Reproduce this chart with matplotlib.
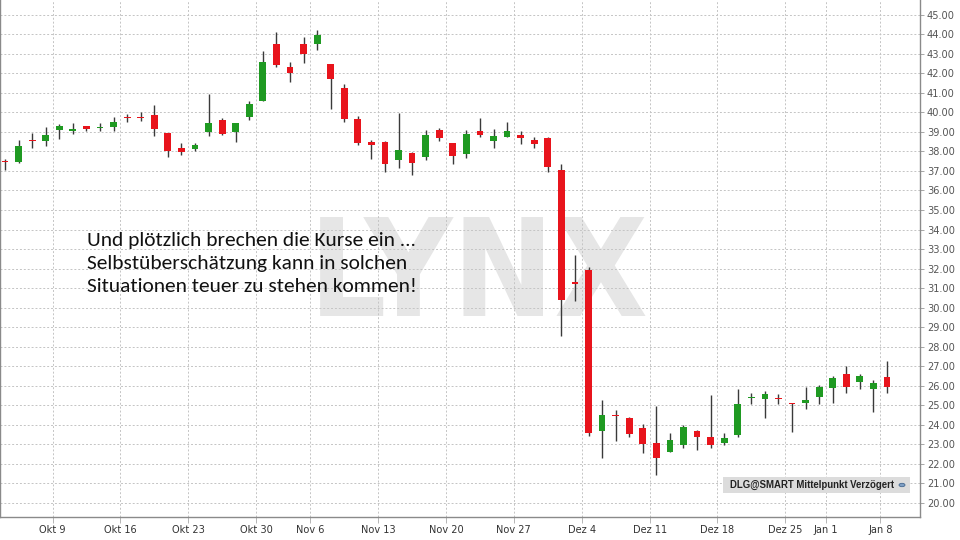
import matplotlib
matplotlib.use("Agg")
import matplotlib.pyplot as plt
from matplotlib.patches import Rectangle, Circle
from matplotlib.ticker import FixedLocator, FuncFormatter, MultipleLocator
from matplotlib import font_manager as fm
from matplotlib.textpath import TextPath
import numpy as np

# ---------------- data ----------------
opens = [37.50, 37.47, 38.58, 38.55, 39.10, 39.06, 39.30, 39.20, 39.25, 39.77,
         39.78, 39.85, 38.93, 38.16, 38.10, 39.00, 39.60, 39.00, 39.76, 40.60,
         43.50, 42.34, 43.49, 43.49, 42.48, 41.23, 39.65, 38.48, 38.48, 37.55,
         37.90, 37.71, 39.11, 38.43, 37.85, 39.05, 38.55, 38.76, 38.86, 38.60,
         38.69, 37.07, 31.30, 31.93, 23.70, 24.52, 24.36, 23.83, 23.08, 22.62,
         22.98, 23.66, 23.37, 23.05, 23.47, 25.37, 25.30, 25.36, 25.08, 25.10,
         25.44, 25.90, 26.58, 26.19, 25.85, 26.44]
highs = [37.60, 38.60, 38.96, 39.25, 39.40, 39.45, 39.32, 39.45, 39.77, 39.90,
         40.00, 40.38, 38.95, 38.42, 38.43, 40.95, 39.70, 39.48, 40.57, 43.15,
         44.13, 42.60, 43.85, 44.22, 42.50, 41.44, 39.82, 38.59, 38.53, 39.98,
         37.99, 39.10, 39.20, 38.45, 39.10, 39.73, 39.13, 39.49, 39.05, 38.72,
         38.72, 37.34, 32.70, 32.06, 25.27, 24.74, 24.38, 24.02, 24.98, 23.58,
         23.99, 23.73, 25.51, 23.58, 25.81, 25.61, 25.73, 25.56, 25.13, 25.92,
         26.04, 26.50, 27.01, 26.58, 26.29, 27.28]
lows = [37.05, 37.40, 38.20, 38.30, 38.65, 38.90, 39.05, 39.05, 39.06, 39.50,
        39.55, 38.80, 37.70, 37.83, 38.00, 38.80, 38.85, 38.50, 39.63, 40.58,
        42.34, 41.57, 42.52, 43.20, 40.16, 39.52, 38.31, 37.60, 36.96, 37.14,
        36.81, 37.55, 38.55, 37.34, 37.65, 38.76, 38.16, 38.74, 38.37, 38.16,
        36.93, 28.55, 30.34, 23.42, 22.28, 23.18, 23.36, 22.57, 21.42, 22.60,
        22.79, 22.69, 22.79, 22.95, 23.36, 25.06, 24.36, 25.06, 23.64, 24.81,
        25.06, 25.10, 25.61, 25.85, 24.67, 25.64]
closes = [37.46, 38.28, 38.52, 38.85, 39.30, 39.12, 39.13, 39.27, 39.52, 39.72,
          39.72, 39.13, 38.00, 37.95, 38.35, 39.48, 38.90, 39.44, 40.43, 42.60,
          42.43, 42.00, 43.00, 43.98, 41.73, 39.65, 38.43, 38.33, 37.37, 38.06,
          37.42, 38.84, 38.67, 37.77, 38.89, 38.83, 38.78, 39.05, 38.67, 38.40,
          37.22, 30.39, 31.22, 23.59, 24.50, 24.45, 23.51, 22.99, 22.28, 23.20,
          23.88, 23.36, 22.98, 23.30, 25.06, 25.43, 25.56, 25.30, 25.04, 25.27,
          25.92, 26.41, 25.93, 26.50, 26.12, 25.93]

# index of the first session of each labelled week
week_start = [4, 9, 14, 19, 23, 28, 33, 38, 43, 48, 53, 58, 61, 65]
week_labels = ["Okt 9", "Okt 16", "Okt 23", "Okt 30", "Nov 6", "Nov 13", "Nov 20",
               "Nov 27", "Dez 4", "Dez 11", "Dez 18", "Dez 25", "Jan 1", "Jan 8"]

annotation_lines = ["Und plötzlich brechen die Kurse ein ...",
                    "Selbstüberschätzung kann in solchen",
                    "Situationen teuer zu stehen kommen!"]
watermark = "LYNX"
info_text = "DLG@SMART Mittelpunkt Verzögert"

# ---------------- style ----------------
GREEN = "#1f9a22"
RED = "#e8141c"
WICK = "#3a3a3a"
GRID = "#c4c4c4"
DPI = 100
W, H = 960, 540
CONDENSED = ("condensed", "semi-condensed", "extra-condensed", "ultra-condensed")


def wnum(w):
    if isinstance(w, (int, float)):
        return w
    return fm.weight_dict.get(str(w), 400)


def is_narrow(f):
    return ("Narrow" in f.name or "Condensed" in f.name or str(f.stretch) in CONDENSED)


narrow_fonts = [f for f in fm.fontManager.ttflist if is_narrow(f) and f.style == "normal"]
reg = sorted(narrow_fonts, key=lambda f: abs(wnum(f.weight) - 400))
bold = sorted([f for f in narrow_fonts if wnum(f.weight) >= 600],
              key=lambda f: abs(wnum(f.weight) - 700))

if reg:
    tick_fp = fm.FontProperties(fname=reg[0].fname)
else:
    tick_fp = fm.FontProperties(family=["Liberation Sans", "DejaVu Sans"])
if bold:
    wm_fp = fm.FontProperties(fname=bold[0].fname)
else:
    wm_fp = fm.FontProperties(family=["Liberation Sans", "DejaVu Sans"], weight="bold")


def ink_size(text, prop):
    ext = TextPath((0, 0), text, size=1, prop=prop).get_extents()
    return ext.width, ext.height


px = DPI / 72.0

fig = plt.figure(figsize=(W / DPI, H / DPI), dpi=DPI)
fig.patch.set_facecolor("white")
ax = fig.add_axes([0 / W, 23 / H, 920 / W, 517 / H])
ax.set_facecolor("white")

n = len(opens)
x = np.arange(n)
o = np.array(opens); h = np.array(highs); l = np.array(lows); c = np.array(closes)
up = c >= o
colors = np.where(up, GREEN, RED)

ax.vlines(x, l, h, color=WICK, linewidth=1.0, zorder=3)
bottoms = np.minimum(o, c)
heights = np.maximum(np.abs(c - o), 0.07)
ax.bar(x, heights, bottom=bottoms, width=0.5, color=colors, edgecolor="none", zorder=4)

ax.set_xlim(-0.37, 67.43)
ax.set_ylim(19.27, 45.76)

ax.set_axisbelow(True)
ax.yaxis.tick_right()
ax.yaxis.set_major_locator(MultipleLocator(1.0))
ax.yaxis.set_major_formatter(FuncFormatter(lambda v, p: f"{v:.2f}"))
ax.xaxis.set_major_locator(FixedLocator([s - 0.5 for s in week_start]))
ax.set_xticklabels(week_labels)
ax.grid(True, color=GRID, linestyle=(0, (2, 2)), linewidth=0.7)

# tick label sizes matched to the reference label widths
wpt, _ = ink_size("Nov 13", tick_fp)
xtick_size = min(10.0, 33 / (wpt * px))
wpt, _ = ink_size("45.00", tick_fp)
ytick_size = min(10.0, 27 / (wpt * px))
ax.tick_params(axis="y", direction="out", length=3, width=0.6, color="#999999",
               labelcolor="#555555", pad=2)
ax.tick_params(axis="x", direction="out", length=4, width=0.6, color="#aaaaaa",
               labelcolor="#333333", pad=2)
for lab in ax.get_xticklabels():
    lab.set_fontproperties(tick_fp)
    lab.set_fontsize(xtick_size)
for lab in ax.get_yticklabels():
    lab.set_fontproperties(tick_fp)
    lab.set_fontsize(ytick_size)

ax.spines["top"].set_visible(False)
for side in ["left", "right", "bottom"]:
    ax.spines[side].set_color("#8a8a8a")
    ax.spines[side].set_linewidth(1.0)

# watermark: close to the 297 x 123 px ink box of the reference
wpt, hpt = ink_size(watermark, wm_fp)
fs_w = 297 / (wpt * px)
fs_h = 123 / (hpt * px)
wm_fs = fs_w ** 0.7 * fs_h ** 0.3
ink_h = hpt * wm_fs * px
baseline_px = 328 - (123 - ink_h) / 2
ax.text(479 / 920, 1 - baseline_px / 517, watermark, transform=ax.transAxes, ha="center",
        va="baseline", fontproperties=wm_fp, fontsize=wm_fs, color="#e6e6e6", zorder=0.2)

# annotation text sized so that the first line is ~326 px wide
ann_fp = fm.FontProperties(family=["Carlito", "Lato", "DejaVu Sans"])
wpt, _ = ink_size(annotation_lines[0], ann_fp)
ann_fs = 326 / (wpt * px)
for i, line in enumerate(annotation_lines):
    fig.text(87 / W, 1 - (246 + 22.8 * i) / H, line, ha="left", va="baseline",
             fontproperties=ann_fp, fontsize=ann_fs, color="#111111")

# info box
fig.patches.append(Rectangle((723 / W, 1 - 493 / H), 187 / W, 16 / H,
                             transform=fig.transFigure, facecolor="#dcdcdc",
                             edgecolor="none", zorder=5))
info_fp = fm.FontProperties(family=["Liberation Sans", "DejaVu Sans"], weight="bold")
wpt, _ = ink_size(info_text, info_fp)
info_fs = 163 / (wpt * px)
fig.text(730 / W, 1 - 485 / H, info_text, ha="left", va="center",
         fontproperties=info_fp, fontsize=info_fs, color="#222222", zorder=6)
fig.patches.append(Circle((902 / W, 1 - 485 / H), 3 / W, transform=fig.transFigure,
                          facecolor="#7f9fc4", edgecolor="#45678f", linewidth=0.6,
                          zorder=6))

fig.savefig("out.png", dpi=DPI)
